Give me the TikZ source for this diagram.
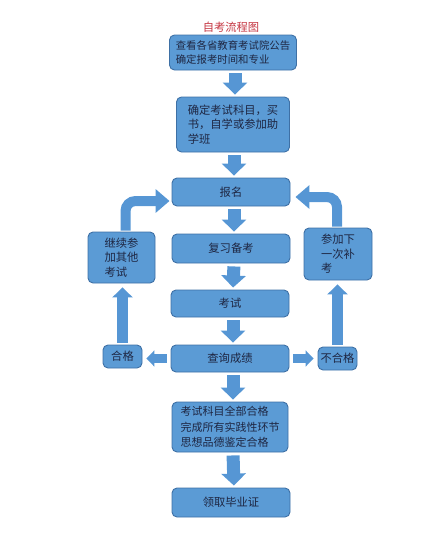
\documentclass[tikz,border=0pt]{standalone}
\usepackage{fontspec}
\newfontfamily\cjk{Noto Sans CJK SC}
\usetikzlibrary{calc,arrows.meta,positioning}
\definecolor{boxblue}{RGB}{91,155,213}
\definecolor{boxedge}{RGB}{62,112,165}
\definecolor{arrowblue}{RGB}{86,150,212}
\definecolor{textnavy}{RGB}{30,38,66}
\definecolor{titlered}{RGB}{196,52,64}
\begin{document}
\begin{tikzpicture}[x=1pt,y=-1pt,font=\cjk\fontsize{11.3}{14.5}\selectfont]

\tikzset{bluebox/.style={fill=boxblue,draw=boxedge,line width=0.9pt,rounded corners=5pt,text=textnavy,align=left,inner sep=2pt},
downarrow/.style={draw=arrowblue,line width=13pt,-{Triangle[length=12pt,width=24pt]},shorten <=3pt,shorten >=2pt},
sidearrow/.style={draw=arrowblue,line width=9pt,-{Triangle[length=8pt,width=16pt]},shorten <=4pt,shorten >=4pt},
uparrow/.style={draw=arrowblue,line width=10.5pt,-{Triangle[length=10pt,width=20pt]},shorten <=2pt,shorten >=4pt},
bendarrow/.style={draw=arrowblue,line width=10pt,rounded corners=10pt,-{Triangle[length=14pt,width=23pt]},shorten <=1pt,shorten >=2pt}}

\useasboundingbox (0,0) rectangle (439,533);

% Title
\node[text=titlered] (title) at (231,27) {自考流程图};

% Main column
\node[bluebox,minimum width=127pt,minimum height=35pt,font=\cjk\fontsize{10.4}{14.5}\selectfont] (chakan) at (233,52.5) {查看各省教育考试院公告\\确定报考时间和专业};
\node[bluebox,minimum width=113pt,minimum height=55pt] (queding) at (233,124.5) {确定考试科目，买\\书，自学或参加助\\学班};
\node[bluebox,minimum width=118pt,minimum height=28pt] (baoming) at (231,192) {报名};
\node[bluebox,minimum width=118pt,minimum height=29pt] (fuxi) at (231,248.5) {复习备考};
\node[bluebox,minimum width=118pt,minimum height=27pt] (kaoshi) at (230,303.5) {考试};
\node[bluebox,minimum width=118pt,minimum height=27pt] (chaxun) at (230,358.5) {查询成绩};
\node[bluebox,minimum width=116pt,minimum height=50pt,font=\cjk\fontsize{11}{15.5}\selectfont] (quanbu) at (230,427) {考试科目全部合格\\完成所有实践性环节\\思想品德鉴定合格};
\node[bluebox,minimum width=118pt,minimum height=29pt] (lingqu) at (231,502.5) {领取毕业证};

% Side nodes
\node[bluebox,minimum width=39pt,minimum height=23pt] (hege) at (122.5,356.5) {合格};
\node[bluebox,minimum width=39pt,minimum height=23pt] (buhege) at (337.5,358.5) {不合格};
\node[bluebox,minimum width=67pt,minimum height=51pt] (jixu) at (121.5,257.5) {继续参\\加其他\\考试};
\node[bluebox,minimum width=68pt,minimum height=52pt] (canjia) at (338,254) {参加下\\一次补\\考};

% Down arrows
\draw[downarrow] ($(chakan.south)+(2,0)$) -- ($(queding.north)+(2,0)$);
\draw[downarrow] ($(queding.south)+(1,0)$) -- ($(baoming.north)+(3,0)$);
\foreach \a/\b in {baoming/fuxi, fuxi/kaoshi, kaoshi/chaxun, chaxun/quanbu, quanbu/lingqu}
  \draw[downarrow] ($(\a.south)+(3,0)$) -- ($(\b.north)+(3,0)$);

% Result arrows
\draw[sidearrow] (chaxun.west) -- (chaxun.west -| hege.east);
\draw[sidearrow] (chaxun.east) -- (chaxun.east -| buhege.west);
\draw[uparrow] (hege.north) -- (hege.north |- jixu.south);
\draw[uparrow] (buhege.north) -- (buhege.north |- canjia.south);

% Back to registration
\draw[bendarrow] ($(jixu.north)+(4,0)$) |- ($(baoming.west)+(0,9)$);
\draw[bendarrow] ($(canjia.north)+(-1,0)$) |- ($(baoming.east)+(3,5)$);

\end{tikzpicture}
\end{document}
